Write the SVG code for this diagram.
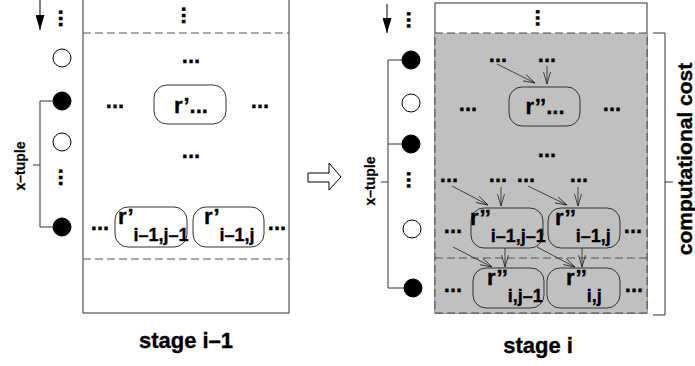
<svg xmlns="http://www.w3.org/2000/svg" width="695" height="366" viewBox="0 0 695 366">
<style>
text{font-family:"Liberation Sans",Arial,sans-serif;font-weight:bold;fill:#000;stroke:#000;stroke-width:0.35}
.t{font-size:22px}
.c{text-anchor:middle}
.s{font-size:18px}
.lbl{font-size:22px;text-anchor:middle}
.xt{font-size:14px;text-anchor:middle;stroke-width:0.2}
.cc{font-size:21px;text-anchor:middle}
.nd{fill:none;stroke:#333;stroke-width:1}
.ln{fill:none;stroke:#333;stroke-width:1}
.dash{fill:none;stroke:#555;stroke-width:1;stroke-dasharray:8 4}
.arr{fill:none;stroke:#222;stroke-width:0.8;marker-end:url(#v)}
.oc{fill:#fff;stroke:#000;stroke-width:1}
.fc{fill:#000;stroke:#000;stroke-width:1}
</style>
<defs>
<marker id="v" markerUnits="userSpaceOnUse" markerWidth="13" markerHeight="8" refX="12" refY="4" orient="auto">
<path d="M0,0.5 L12,4 L0,7.5" fill="none" stroke="#222" stroke-width="0.8"/>
</marker>
<marker id="fa" markerUnits="userSpaceOnUse" markerWidth="9" markerHeight="16" refX="4.5" refY="15" orient="0">
<path d="M0,0 L9,0 L4.5,15 Z" fill="#000"/>
</marker>
</defs>

<!-- left panel -->
<g id="panel-left">
<rect x="83" y="-5" width="206" height="318" fill="#fff" stroke="#333" stroke-width="1"/>
<line class="dash" x1="83" y1="33" x2="289" y2="33"/>
<line class="dash" x1="83" y1="259" x2="289" y2="259"/>
<text class="t c" transform="translate(181.5,15.5) rotate(90)">...</text>
<text class="t c" x="191" y="63">...</text>
<text class="t c" x="115" y="108">...</text>
<text class="t c" x="260" y="108">...</text>
<text class="t c" x="191" y="158">...</text>
<text class="t c" x="100" y="230">...</text>
<text class="t c" x="277" y="230">...</text>
<text class="lbl" x="186" y="348">stage i–1</text>
</g>
<g id="node-r1">
<rect class="nd" x="154" y="85" width="72" height="39" rx="13"/>
<text class="t c" x="191" y="113">r’...</text>
</g>
<g id="node-r1-im1-jm1">
<rect class="nd" x="115" y="207" width="72" height="40" rx="13"/>
<text class="t" x="118" y="224">r’<tspan class="s" y="241">i–1,j–1</tspan></text>
</g>
<g id="node-r1-im1-j">
<rect class="nd" x="193" y="207" width="71" height="40" rx="13"/>
<text class="t" x="204" y="224">r’<tspan class="s" y="241">i–1,j</tspan></text>
</g>

<!-- left x-tuple column -->
<g id="tuple-left">
<text class="t c" transform="translate(58.5,18.5) rotate(90)">...</text>
<circle class="oc" cx="62" cy="58" r="9"/>
<circle class="fc" cx="62" cy="101" r="9"/>
<circle class="oc" cx="62" cy="142" r="9"/>
<text class="t c" transform="translate(58.5,177.5) rotate(90)">...</text>
<circle class="fc" cx="62" cy="227" r="9"/>
<path class="ln" d="M53,101 H40 V227 H53 M40,165 H33"/>
<text class="xt" transform="translate(25,166) rotate(-90)">x–tuple</text>
</g>

<!-- transition arrow -->
<g id="transition">
<polygon points="308,173 329,173 329,163 341,177 329,190 329,182 308,182" fill="#fff" stroke="#000" stroke-width="1"/>
</g>

<!-- right panel -->
<g id="panel-right">
<rect x="435" y="3" width="212" height="310" fill="#fff" stroke="#333" stroke-width="1"/>
<rect x="435" y="33" width="212" height="280" fill="#c0c0c0" stroke="#444" stroke-width="1" stroke-dasharray="8 4"/>
<line class="dash" x1="435" y1="258" x2="647" y2="258"/>
<text class="t c" transform="translate(535.5,18) rotate(90)">...</text>
<text class="t c" x="498" y="62">...</text>
<text class="t c" x="547" y="62">...</text>
<text class="t c" x="468" y="111">...</text>
<text class="t c" x="612" y="111">...</text>
<text class="t c" x="547" y="157">...</text>
<text class="t c" x="449" y="182">...</text>
<text class="t c" x="498" y="182">...</text>
<text class="t c" x="526" y="182">...</text>
<text class="t c" x="579" y="182">...</text>
<text class="t c" x="453" y="233">...</text>
<text class="t c" x="633" y="233">...</text>
<text class="t c" x="453" y="292">...</text>
<text class="t c" x="634" y="292">...</text>
<text class="lbl" x="538" y="353">stage i</text>
</g>
<g id="node-r2">
<rect class="nd" x="509" y="87" width="71" height="39" rx="13"/>
<text class="t c" x="545" y="114">r’’...</text>
</g>
<g id="node-r2-im1-jm1">
<rect class="nd" x="471" y="208" width="72" height="40" rx="13"/>
<text class="t" x="470" y="225">r’’<tspan class="s" y="242">i–1,j–1</tspan></text>
</g>
<g id="node-r2-im1-j">
<rect class="nd" x="548" y="208" width="72" height="40" rx="13"/>
<text class="t" x="555" y="225">r’’<tspan class="s" y="242">i–1,j</tspan></text>
</g>
<g id="node-r2-i-jm1">
<rect class="nd" x="473" y="268" width="71" height="40" rx="13"/>
<text class="t" x="487" y="285">r’’<tspan class="s" y="302">i,j–1</tspan></text>
</g>
<g id="node-r2-i-j">
<rect class="nd" x="547" y="268" width="73" height="40" rx="13"/>
<text class="t" x="566" y="285">r’’<tspan class="s" y="302">i,j</tspan></text>
</g>

<!-- right x-tuple column -->
<g id="tuple-right">
<text class="t c" transform="translate(406.5,20) rotate(90)">...</text>
<circle class="fc" cx="411" cy="60" r="9"/>
<circle class="oc" cx="411" cy="103" r="9"/>
<circle class="fc" cx="411" cy="144" r="9"/>
<text class="t c" transform="translate(406.5,180) rotate(90)">...</text>
<circle class="oc" cx="412" cy="229" r="9"/>
<circle class="fc" cx="413" cy="288" r="9"/>
<path class="ln" d="M402,60 H388 V288 H404 M388,144 H402 M388,182 H381"/>
<text class="xt" transform="translate(375,181) rotate(-90)">x–tuple</text>
</g>

<!-- cost bracket -->
<g id="cost">
<path class="ln" d="M653,33 H665 V315 H653 M665,182 H673"/>
<text class="cc" transform="translate(692,159) rotate(-90)">computational cost</text>
</g>

<!-- connectors -->
<g id="connectors">
<line x1="40" y1="0" x2="40" y2="30" stroke="#000" stroke-width="1" marker-end="url(#fa)"/>
<line x1="387" y1="4" x2="387" y2="33" stroke="#000" stroke-width="1" marker-end="url(#fa)"/>
<line class="arr" x1="497" y1="64" x2="535" y2="83"/>
<line class="arr" x1="547" y1="66" x2="547" y2="84"/>
<line class="arr" x1="452" y1="186" x2="488" y2="205"/>
<line class="arr" x1="501" y1="187" x2="501" y2="206"/>
<line class="arr" x1="528" y1="186" x2="567" y2="205"/>
<line class="arr" x1="578" y1="187" x2="578" y2="206"/>
<line class="arr" x1="453" y1="247" x2="492" y2="267"/>
<line class="arr" x1="505" y1="248" x2="505" y2="267"/>
<line class="arr" x1="537" y1="247" x2="575" y2="267"/>
<line class="arr" x1="582" y1="248" x2="582" y2="267"/>
</g>
</svg>
